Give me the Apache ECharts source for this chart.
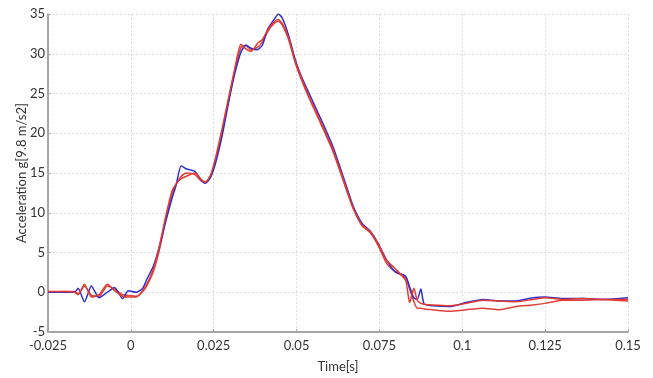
<!DOCTYPE html>
<html>
<head>
<meta charset="utf-8">
<script src="https://cdn.jsdelivr.net/npm/echarts@6/dist/echarts.min.js"></script>
<style>
  html, body { margin: 0; padding: 0; background: #fff; }
  #chart { width: 653px; height: 378px; }
</style>
</head>
<body>
<div id="chart"></div>
<script>
// time axis shared by all three traces (s)
var time = [
  -0.025, -0.02, -0.017, -0.0159, -0.014, -0.0119, -0.0096, -0.0071, -0.0049, -0.0025,
  -0.0008, 0.0017, 0.0036, 0.0048, 0.0067, 0.0086, 0.0105, 0.0124, 0.0136, 0.0152,
  0.0168, 0.0193, 0.0212, 0.0225, 0.0241, 0.0256, 0.0275, 0.0294, 0.0313, 0.0332,
  0.0347, 0.0363, 0.0382, 0.0397, 0.0413, 0.0432, 0.0445, 0.0457, 0.0476, 0.0495,
  0.0514, 0.0539, 0.0571, 0.0609, 0.0646, 0.0671, 0.0697, 0.0722, 0.0747, 0.0772,
  0.0797, 0.0829, 0.0841, 0.0854, 0.0864, 0.0875, 0.0885, 0.091, 0.0961, 0.1011,
  0.1062, 0.1112, 0.1162, 0.1213, 0.125, 0.1301, 0.1364, 0.1427, 0.15
];

var blueAcc = [
  0, 0, 0, 0.5, -1.2, 0.8, -0.7, 0, 0.6, -0.8,
  0.2, 0, 0.5, 1.6, 3.2, 5.7, 8.9, 11.8, 13.4, 15.9,
  15.5, 15.2, 14.1, 13.7, 14.5, 16.3, 19.6, 23.7, 27.4, 30.2,
  31.1, 30.7, 30.5, 31.1, 33.1, 34.3, 35.0, 34.5, 32.3, 29.4,
  27.2, 24.9, 22.0, 18.4, 13.9, 10.8, 8.7, 7.7, 6.1, 4.0,
  2.6, 2.0, 0.7, -0.7, -0.9, 0.4, -1.5, -1.7, -1.8, -1.3,
  -0.9, -1.1, -1.1, -0.7, -0.6, -0.8, -0.8, -0.9, -0.7
];

var redAcc = [
  0.1, 0.1, 0, -0.3, 1.0, -0.6, -0.3, 1.0, 0.2, -0.5,
  -0.6, -0.6, 0.2, 1.0, 2.8, 5.8, 9.5, 12.7, 13.6, 14.3,
  14.6, 15.0, 14.2, 13.8, 14.8, 17.0, 20.5, 24.3, 28.0, 31.2,
  30.6, 30.3, 31.3, 31.8, 33.0, 34.0, 34.3, 33.8, 32.0, 29.2,
  27.0, 24.5, 21.6, 18.0, 13.6, 10.6, 8.5, 7.6, 6.0, 4.0,
  3.0, 1.5, -1.3, 0.5, -1.0, -1.4, -1.5, -1.6, -1.7, -1.4,
  -1.0, -1.1, -1.2, -0.9, -0.7, -0.9, -0.8, -0.9, -0.9
];

var red2Acc = [
  0, 0.1, 0.1, -0.2, 0.8, -0.4, -0.5, 0.8, 0.4, -0.3,
  -0.4, -0.5, 0.1, 0.8, 2.5, 5.3, 9.0, 12.3, 13.5, 14.6,
  15.0, 14.8, 14.0, 13.9, 14.6, 16.6, 20.0, 24.0, 27.8, 30.8,
  31.0, 30.5, 30.8, 31.5, 32.8, 33.8, 34.1, 33.6, 31.8, 29.0,
  26.8, 24.3, 21.4, 17.8, 13.4, 10.5, 8.4, 7.5, 5.8, 3.6,
  2.6, 1.8, 0.4, -1.2, -2.0, -2.0, -2.1, -2.2, -2.4, -2.2,
  -2.0, -2.2, -1.8, -1.6, -1.4, -1.0, -1.0, -0.9, -1.1
];

function pairs(vals) {
  return time.map(function (t, i) { return [t, vals[i]]; });
}

var chart = echarts.init(document.getElementById("chart"));

var axisFont = { fontFamily: "Lato", fontSize: 13, color: "#333" };

chart.setOption({
  animation: false,
  grid: { left: 48, right: 25, top: 14, bottom: 37 },
  xAxis: {
    type: "value",
    min: -0.025,
    max: 0.15,
    interval: 0.025,
    name: "Time[s]",
    nameLocation: "middle",
    nameGap: 28,
    nameMoveOverlap: false,
    nameTextStyle: axisFont,
    axisLine: { onZero: false, lineStyle: { color: "#8a8a8a", width: 1.5 } },
    axisTick: { show: true, inside: true, length: 3, lineStyle: { color: "#aaa" } },
    axisLabel: Object.assign({
      margin: 7,
      formatter: function (v) { return String(+v.toFixed(3)); }
    }, axisFont),
    splitLine: { lineStyle: { color: "#ddd", type: [2, 2] } }
  },
  yAxis: {
    type: "value",
    min: -5,
    max: 35,
    interval: 5,
    name: "Acceleration g[9.8 m/s2]",
    nameLocation: "middle",
    nameGap: 20,
    nameMoveOverlap: false,
    nameTextStyle: axisFont,
    axisLine: { show: true, onZero: false, lineStyle: { color: "#8a8a8a", width: 1.5 } },
    axisTick: { show: true, inside: true, length: 3, lineStyle: { color: "#aaa" } },
    axisLabel: Object.assign({ margin: 3 }, axisFont),
    splitLine: { lineStyle: { color: "#ddd", type: [2, 2] } }
  },
  series: [
    {
      type: "line",
      data: pairs(red2Acc),
      showSymbol: false,
      smooth: 0.2,
      lineStyle: { color: "#e0413a", width: 1.5 }
    },
    {
      type: "line",
      data: pairs(blueAcc),
      showSymbol: false,
      smooth: 0.2,
      lineStyle: { color: "#2b2fd0", width: 1.5 }
    },
    {
      type: "line",
      data: pairs(redAcc),
      showSymbol: false,
      smooth: 0.2,
      lineStyle: { color: "#e23a30", width: 1.5 }
    }
  ]
});
</script>
</body>
</html>
